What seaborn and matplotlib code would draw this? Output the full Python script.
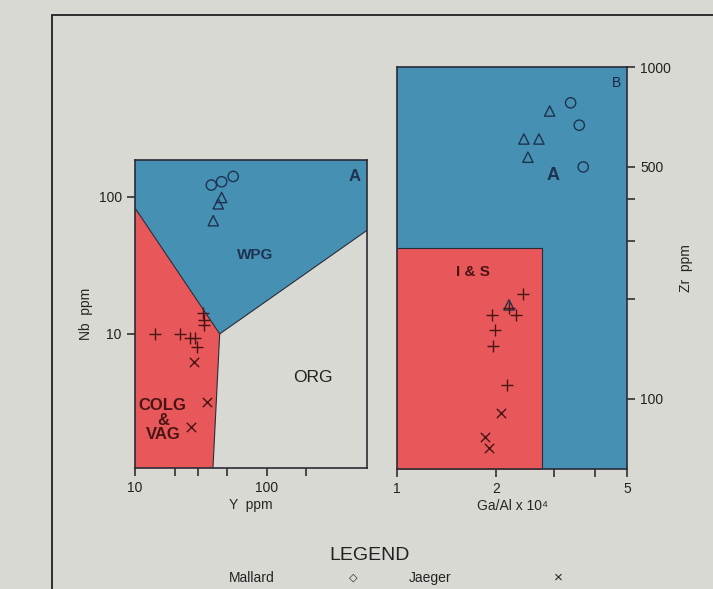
import numpy as np
import pandas as pd
import seaborn as sns
import matplotlib.pyplot as plt
from matplotlib.lines import Line2D
from matplotlib.markers import MarkerStyle

# ---- panel A : Nb vs Y (Pearce) ----
a_circ_y = [38, 45.5, 55.7]
a_circ_nb = [122, 129, 141]
a_tri_y = [45.5, 42.9, 39.3]
a_tri_nb = [99, 89, 67]
a_plus_y = [14.2, 22, 26.2, 28.6, 29.4, 33, 33.4, 33.4]
a_plus_nb = [10, 10, 9.3, 9.3, 8.0, 14.1, 12.6, 11.6]
a_x_y = [28, 35, 26.5]
a_x_nb = [6.2, 3.2, 2.1]

# field boundaries
colg_y = [10, 44, 39, 10]
colg_nb = [83, 10, 1, 1]
wpg_y = [10, 44, 578, 578, 10]
wpg_nb = [83, 10, 57, 300, 300]

# ---- panel B : Zr vs Ga/Al ----
b_circ_ga = [3.37, 3.58, 3.68]
b_circ_zr = [780, 668, 500]
b_tri_ga = [2.91, 2.43, 2.70, 2.50, 2.19]
b_tri_zr = [737, 607, 607, 535, 192]
b_plus_ga = [2.41, 2.19, 2.30, 1.95, 1.99, 1.96, 2.16]
b_plus_zr = [207, 188, 179, 179, 161, 144, 110]
b_x_ga = [2.07, 1.85, 1.91]
b_x_zr = [91, 77, 71]

is_box_ga = [1, 2.75]
is_box_zr = [50, 285]

bg = "#d9d9d3"
blue = "#4690b3"
red = "#e8585a"
navy = "#1d3350"
maroon = "#4a1414"

sns.set_style("ticks")
plt.rcParams['font.family'] = ['Liberation Sans', 'DejaVu Sans']
plt.rcParams['axes.linewidth'] = 1.2
plt.rcParams['xtick.major.width'] = 1.1
plt.rcParams['ytick.major.width'] = 1.1

fig = plt.figure(figsize=(7.13, 5.89), dpi=100, facecolor=bg)
axA = fig.add_axes([0.1893, 0.2054, 0.3254, 0.5230])
axB = fig.add_axes([0.5568, 0.2037, 0.3226, 0.6825])

open_circle = MarkerStyle('o', fillstyle='none')
open_tri = MarkerStyle('^', fillstyle='none')

# panel A
axA.set_facecolor(bg)
axA.set_xscale('log')
axA.set_yscale('log')
axA.fill(wpg_y, wpg_nb, color=blue, lw=0)
axA.fill(colg_y, colg_nb, color=red, lw=0)
axA.plot(wpg_y[:3], wpg_nb[:3], color="#2b2b38", lw=0.8)
axA.plot(colg_y[1:3], colg_nb[1:3], color="#2b2b38", lw=0.8)
sns.scatterplot(x=a_circ_y, y=a_circ_nb, ax=axA, marker=open_circle, s=55, color=navy, linewidth=1)
sns.scatterplot(x=a_tri_y, y=a_tri_nb, ax=axA, marker=open_tri, s=55, color=navy, linewidth=1)
sns.scatterplot(x=a_plus_y, y=a_plus_nb, ax=axA, marker='+', s=70, color=maroon, linewidth=1)
sns.scatterplot(x=a_x_y, y=a_x_nb, ax=axA, marker='x', s=45, color=maroon, linewidth=1)
axA.set_xlim(10, 578)
axA.set_ylim(1.05, 186)
axA.set_xticks([10, 20, 30, 50, 100, 200])
axA.set_xticklabels(['10', '', '', '', '100', ''])
axA.set_xticks([], minor=True)
axA.set_yticks([10, 100])
axA.set_yticklabels(['10', '100'])
axA.set_yticks([], minor=True)
axA.tick_params(labelsize=10, length=6, colors="#222222")
axA.set_xlabel('Y  ppm', fontsize=10, labelpad=2)
axA.set_ylabel('Nb  ppm', fontsize=10, labelpad=4)
axA.text(0.948, 0.945, 'A', transform=axA.transAxes, ha='center', va='center', fontsize=12, fontweight='bold', color=navy)
axA.text(0.52, 0.69, 'WPG', transform=axA.transAxes, ha='center', va='center', fontsize=11, fontweight='bold', color=navy)
axA.text(0.767, 0.295, 'ORG', transform=axA.transAxes, ha='center', va='center', fontsize=12.5, color="#222222")
axA.text(0.12, 0.155, 'COLG\n&\nVAG', transform=axA.transAxes, ha='center', va='center', fontsize=12, fontweight='bold', color=maroon, linespacing=0.95)

# panel B
axB.set_facecolor(blue)
axB.set_xscale('log')
axB.set_yscale('log')
axB.fill_between(is_box_ga, is_box_zr[0], is_box_zr[1], color=red, lw=0)
axB.plot([is_box_ga[1], is_box_ga[1], is_box_ga[0]], [is_box_zr[0], is_box_zr[1], is_box_zr[1]], color="#2b2b38", lw=0.8)
sns.scatterplot(x=b_circ_ga, y=b_circ_zr, ax=axB, marker=open_circle, s=55, color=navy, linewidth=1)
sns.scatterplot(x=b_tri_ga, y=b_tri_zr, ax=axB, marker=open_tri, s=55, color=navy, linewidth=1)
sns.scatterplot(x=b_plus_ga, y=b_plus_zr, ax=axB, marker='+', s=70, color=maroon, linewidth=1)
sns.scatterplot(x=b_x_ga, y=b_x_zr, ax=axB, marker='x', s=45, color=maroon, linewidth=1)
axB.set_xlim(1, 5)
axB.set_ylim(61.5, 1000)
axB.set_xticks([1, 2, 3, 4, 5])
axB.set_xticklabels(['1', '2', '', '', '5'])
axB.set_xticks([], minor=True)
axB.yaxis.tick_right()
axB.yaxis.set_label_position('right')
axB.set_yticks([100, 200, 300, 400, 500, 1000])
axB.set_yticklabels(['100', '', '', '', '500', '1000'])
axB.set_yticks([], minor=True)
axB.tick_params(labelsize=10, length=6, colors="#222222")
axB.set_xlabel('Ga/Al x 10⁴', fontsize=10, labelpad=2)
axB.set_ylabel('Zr  ppm', fontsize=10, labelpad=6)
axB.text(0.955, 0.96, 'B', transform=axB.transAxes, ha='center', va='center', fontsize=10, color="#222244")
axB.text(0.68, 0.73, 'A', transform=axB.transAxes, ha='center', va='center', fontsize=13, fontweight='bold', color=navy)
axB.text(0.33, 0.49, 'I & S', transform=axB.transAxes, ha='center', va='center', fontsize=11, fontweight='bold', color=maroon)

for ax in (axA, axB):
    for sp in ax.spines.values():
        sp.set_visible(True)
        sp.set_color("#2b2b38")

# outer frame
fx, fy = 52 / 713, 1 - 15 / 589
fig.add_artist(Line2D([fx, 1.0], [fy, fy], color="#222222", lw=1.3))
fig.add_artist(Line2D([fx, fx], [0.0, fy], color="#222222", lw=1.3))

# legend block
fig.text(370 / 713, 1 - 555 / 589, 'LEGEND', ha='center', va='center', fontsize=14, color="#222222")
fig.text(252 / 713, 1 - 578 / 589, 'Mallard', ha='center', va='center', fontsize=10, color="#222222")
fig.text(353 / 713, 1 - 578 / 589, '◇', ha='center', va='center', fontsize=8, color="#222222", family=['DejaVu Sans'])
fig.text(430 / 713, 1 - 578 / 589, 'Jaeger', ha='center', va='center', fontsize=10, color="#222222")
fig.text(558 / 713, 1 - 578 / 589, '×', ha='center', va='center', fontsize=11, color="#222222")

fig.savefig('out.png', dpi=100, facecolor=bg)
